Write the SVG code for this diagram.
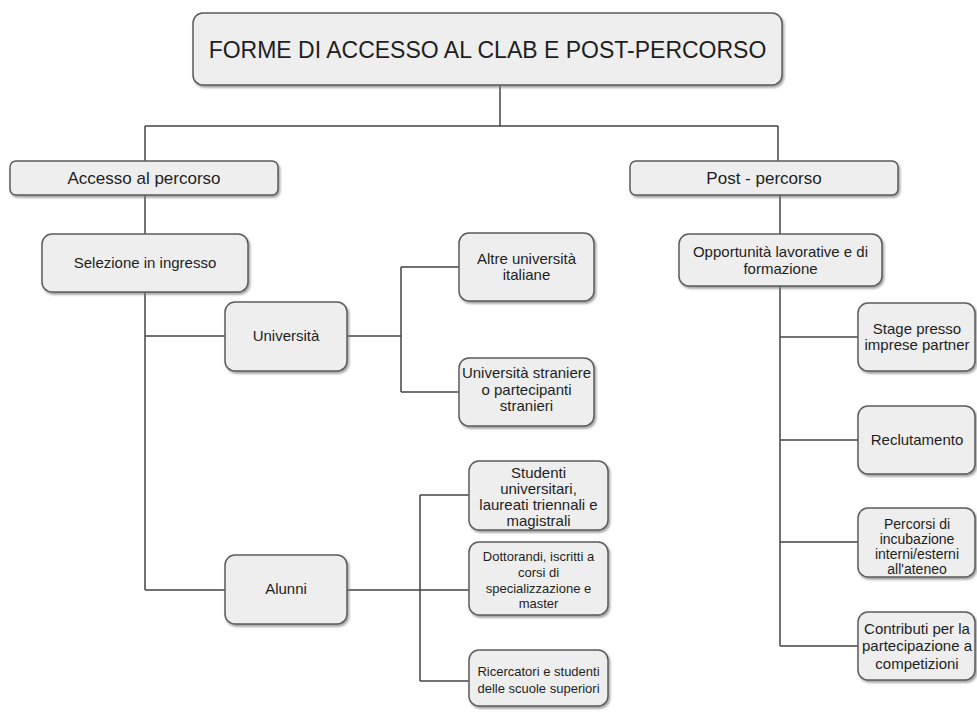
<svg xmlns="http://www.w3.org/2000/svg" width="977" height="716" viewBox="0 0 977 716">
<defs>
<filter id="sh" x="-10%" y="-10%" width="130%" height="140%">
<feDropShadow dx="1.5" dy="2" stdDeviation="1" flood-color="#777" flood-opacity="0.7"/>
</filter>
<style>
.b{fill:#eeeeee;stroke:#5c5c5c;stroke-width:1.5;filter:url(#sh)}
.t{font-family:"Liberation Sans",Arial,Helvetica,sans-serif;fill:#1e1e1e;text-anchor:middle}
.c{fill:none;stroke:#444;stroke-width:1.5}
</style>
</defs>
<rect width="977" height="716" fill="#ffffff"/>
<g id="connectors">
<path class="c" d="M500 85V126M145 126H778M145 126V161M778 126V161"/>
<path class="c" d="M145 195V234M145 292V590M145 336H225M145 590H225"/>
<path class="c" d="M347 336H401M401 267V392M401 267H459M401 392H459"/>
<path class="c" d="M347 590H469M420 495V681M420 495H469M420 681H469"/>
<path class="c" d="M780 195V234M780 286V646M780 337H858M780 440H858M780 542H858M780 646H858"/>
</g>
<g id="title"><rect class="b" x="193" y="13" width="589" height="72" rx="10"/><text class="t" x="487.5" y="58" font-size="23">FORME DI ACCESSO AL CLAB E POST-PERCORSO</text></g>
<g id="accesso"><rect class="b" x="10" y="161" width="268" height="34" rx="6"/><text class="t" x="144" y="184" font-size="17">Accesso al percorso</text></g>
<g id="selezione"><rect class="b" x="42" y="234" width="206" height="58" rx="10"/><text class="t" x="145" y="268" font-size="15">Selezione in ingresso</text></g>
<g id="universita"><rect class="b" x="225" y="302" width="122" height="69" rx="10"/><text class="t" x="286" y="341" font-size="15">Università</text></g>
<g id="altre"><rect class="b" x="459" y="233" width="135" height="68" rx="10"/><text class="t" font-size="15"><tspan x="526.5" y="264">Altre università</tspan><tspan x="526.5" y="280">italiane</tspan></text></g>
<g id="straniere"><rect class="b" x="459" y="358" width="135" height="68" rx="10"/><text class="t" font-size="15"><tspan x="526.5" y="378">Università straniere</tspan><tspan x="526.5" y="394.5">o partecipanti</tspan><tspan x="526.5" y="411">stranieri</tspan></text></g>
<g id="alunni"><rect class="b" x="225" y="555" width="122" height="69" rx="10"/><text class="t" x="286" y="594" font-size="15">Alunni</text></g>
<g id="studenti"><rect class="b" x="469" y="461" width="139" height="69" rx="10"/><text class="t" font-size="15"><tspan x="538.5" y="478">Studenti</tspan><tspan x="538.5" y="494">universitari,</tspan><tspan x="538.5" y="510">laureati triennali e</tspan><tspan x="538.5" y="526">magistrali</tspan></text></g>
<g id="dottorandi"><rect class="b" x="469" y="542" width="139" height="73" rx="10"/><text class="t" font-size="13"><tspan x="538.5" y="561">Dottorandi, iscritti a</tspan><tspan x="538.5" y="577">corsi di</tspan><tspan x="538.5" y="592.5">specializzazione e</tspan><tspan x="538.5" y="608">master</tspan></text></g>
<g id="ricercatori"><rect class="b" x="469" y="650" width="139" height="56" rx="10"/><text class="t" font-size="13"><tspan x="538.5" y="676">Ricercatori e studenti</tspan><tspan x="538.5" y="693">delle scuole superiori</tspan></text></g>
<g id="post"><rect class="b" x="630" y="161" width="268" height="34" rx="6"/><text class="t" x="764" y="184" font-size="17">Post - percorso</text></g>
<g id="opportunita"><rect class="b" x="679" y="234" width="203" height="52" rx="10"/><text class="t" font-size="15"><tspan x="780.5" y="257">Opportunità lavorative e di</tspan><tspan x="780.5" y="274">formazione</tspan></text></g>
<g id="stage"><rect class="b" x="858" y="303" width="117" height="68" rx="10"/><text class="t" font-size="15"><tspan x="917" y="334">Stage presso</tspan><tspan x="917" y="350">imprese partner</tspan></text></g>
<g id="reclutamento"><rect class="b" x="858" y="406" width="117" height="68" rx="10"/><text class="t" x="917" y="445" font-size="15">Reclutamento</text></g>
<g id="percorsi"><rect class="b" x="858" y="508" width="117" height="69" rx="10"/><text class="t" font-size="14"><tspan x="917" y="529">Percorsi di</tspan><tspan x="917" y="544">incubazione</tspan><tspan x="917" y="559">interni/esterni</tspan><tspan x="917" y="574">all'ateneo</tspan></text></g>
<g id="contributi"><rect class="b" x="858" y="612" width="117" height="68" rx="10"/><text class="t" font-size="15"><tspan x="917" y="634">Contributi per la</tspan><tspan x="917" y="651">partecipazione a</tspan><tspan x="917" y="669">competizioni</tspan></text></g>
</svg>
